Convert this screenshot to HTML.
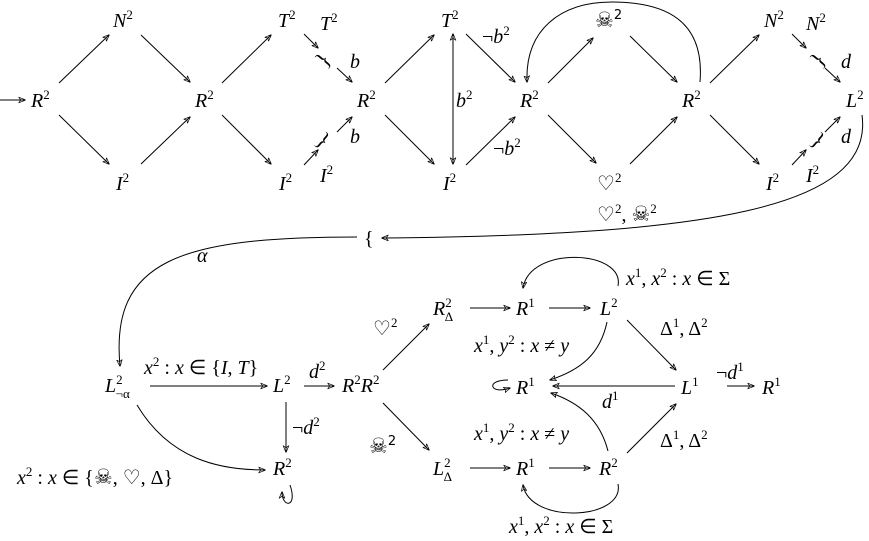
<!DOCTYPE html>
<html><head><meta charset="utf-8"><style>
html,body{margin:0;padding:0;background:#fff;}
svg{display:block;}
text{font-family:"Liberation Serif",serif;font-style:italic;font-size:20px;fill:#000;}
.s{font-size:13px;font-style:normal;}
.u{font-style:normal;}
.k{font-family:"DejaVu Sans",sans-serif;font-style:normal;font-size:21px;}
.b{font-style:normal;font-size:22px;}
line,path{stroke:#000;stroke-width:1;fill:none;}
</style></head><body>
<svg width="869" height="541" viewBox="0 0 869 541" xmlns="http://www.w3.org/2000/svg">
<defs><marker id="a" viewBox="0 0 10 10" refX="9" refY="5" markerWidth="7" markerHeight="7" orient="auto-start-reverse"><path d="M0,1 L10,5 L0,9 L3,5z" fill="#000" stroke="none"/></marker></defs>
<g marker-end="url(#a)">
<line x1="0" y1="100" x2="25" y2="100"/>
<line x1="59" y1="83" x2="109" y2="35"/>
<line x1="59" y1="115" x2="109" y2="164"/>
<line x1="141" y1="35" x2="190" y2="82"/>
<line x1="141" y1="164" x2="190" y2="117"/>
<line x1="222" y1="83" x2="271" y2="35"/>
<line x1="222" y1="115" x2="271" y2="164"/>
<line x1="304" y1="34" x2="318" y2="48"/>
<line x1="337" y1="68" x2="352" y2="82"/>
<line x1="304" y1="165" x2="318" y2="150"/>
<line x1="337" y1="132" x2="352" y2="117"/>
<line x1="385" y1="83" x2="434" y2="35"/>
<line x1="385" y1="115" x2="434" y2="164"/>
<line x1="466" y1="34" x2="515" y2="82"/>
<line x1="466" y1="165" x2="515" y2="117"/>
<line x1="548" y1="83" x2="593" y2="38"/>
<line x1="548" y1="115" x2="596" y2="163"/>
<line x1="630" y1="36" x2="677" y2="82"/>
<line x1="630" y1="164" x2="677" y2="117"/>
<line x1="710" y1="83" x2="759" y2="35"/>
<line x1="710" y1="115" x2="759" y2="164"/>
<line x1="792" y1="34" x2="806" y2="48"/>
<line x1="825" y1="68" x2="840" y2="82"/>
<line x1="792" y1="165" x2="806" y2="150"/>
<line x1="825" y1="132" x2="840" y2="117"/>
<path d="M700,82 C705,20 665,2 612,2 C560,2 525,30 527,82"/>
<path d="M862,115 C875,210 700,235 382,238"/>
<path d="M357,237 C180,237 110,260 120,366"/>
<line x1="150" y1="386" x2="267" y2="386"/>
<line x1="304" y1="386" x2="334" y2="386"/>
<line x1="286" y1="402" x2="286" y2="452"/>
<path d="M137,405 C170,460 220,470 265,470"/>
<line x1="383" y1="370" x2="429" y2="324"/>
<line x1="383" y1="403" x2="429" y2="450"/>
<line x1="470" y1="308" x2="510" y2="308"/>
<line x1="549" y1="308" x2="590" y2="308"/>
<path d="M618,286 C625,250 530,245 523,288"/>
<path d="M607,322 C600,355 580,370 550,380"/>
<line x1="675" y1="386" x2="553" y2="386"/>
<line x1="627" y1="320" x2="676" y2="370"/>
<line x1="727" y1="386" x2="754" y2="386"/>
<line x1="627" y1="453" x2="676" y2="404"/>
<path d="M608,451 C600,420 580,403 551,393"/>
<line x1="470" y1="468" x2="510" y2="468"/>
<line x1="549" y1="468" x2="590" y2="468"/>
<path d="M618,484 C625,520 530,525 523,485"/>
</g>
<line x1="453" y1="34" x2="453" y2="164" marker-end="url(#a)" marker-start="url(#a)"/>
<path d="M510,388 C490,395 485,380 508,380" marker-start="url(#a)"/>
<path d="M290,485 C298,508 282,508 282,492" marker-end="url(#a)"/>
<text x="31" y="107">R<tspan class="s" dy="-8">2</tspan></text>
<text x="113" y="27">N<tspan class="s" dy="-8">2</tspan></text>
<text x="116" y="190">I<tspan class="s" dy="-8">2</tspan></text>
<text x="195" y="107">R<tspan class="s" dy="-8">2</tspan></text>
<text x="278" y="27">T<tspan class="s" dy="-8">2</tspan></text>
<text x="279" y="190">I<tspan class="s" dy="-8">2</tspan></text>
<text x="320" y="30">T<tspan class="s" dy="-8">2</tspan></text>
<text x="320" y="182">I<tspan class="s" dy="-8">2</tspan></text>
<text class="b" x="318" y="67" transform="rotate(-50 323 60)">}</text>
<text class="b" x="318" y="147" transform="rotate(40 323 140)">}</text>
<text x="350" y="68">b</text><text x="350" y="143">b</text>
<text x="357" y="107">R<tspan class="s" dy="-8">2</tspan></text>
<text x="441" y="27">T<tspan class="s" dy="-8">2</tspan></text>
<text x="443" y="190">I<tspan class="s" dy="-8">2</tspan></text>
<text x="456" y="107">b<tspan class="s" dy="-8">2</tspan></text>
<text x="482" y="43"><tspan class="u">¬</tspan>b<tspan class="s" dy="-8">2</tspan></text>
<text x="493" y="155"><tspan class="u">¬</tspan>b<tspan class="s" dy="-8">2</tspan></text>
<text x="520" y="107">R<tspan class="s" dy="-8">2</tspan></text>
<text class="k" x="595" y="27">☠<tspan class="s" dy="-8">2</tspan></text>
<text class="u" x="597" y="190">♡<tspan class="s" dy="-8">2</tspan></text>
<text x="682" y="107">R<tspan class="s" dy="-8">2</tspan></text>
<text x="764" y="27">N<tspan class="s" dy="-8">2</tspan></text>
<text x="766" y="190">I<tspan class="s" dy="-8">2</tspan></text>
<text x="806" y="30">N<tspan class="s" dy="-8">2</tspan></text>
<text x="806" y="182">I<tspan class="s" dy="-8">2</tspan></text>
<text class="b" x="813" y="67" transform="rotate(-50 818 60)">}</text>
<text class="b" x="813" y="147" transform="rotate(40 818 140)">}</text>
<text x="841" y="68">d</text><text x="841" y="143">d</text>
<text x="846" y="107">L<tspan class="s" dy="-8">2</tspan></text>
<text x="597" y="221"><tspan class="u">♡</tspan><tspan class="s" dy="-8">2</tspan><tspan class="u" dy="8">, </tspan><tspan class="k">☠</tspan><tspan class="s" dy="-8">2</tspan></text>
<text class="u" x="364" y="245">{</text>
<text x="197" y="262">α</text>
<text x="105" y="392">L<tspan class="s" dy="-8">2</tspan><tspan class="s" dx="-7" dy="14">¬α</tspan></text>
<text x="144" y="374">x<tspan class="s" dy="-8">2</tspan><tspan class="u" dy="8"> : </tspan>x<tspan class="u"> ∈ {</tspan>I<tspan class="u">, </tspan>T<tspan class="u">}</tspan></text>
<text x="273" y="392">L<tspan class="s" dy="-8">2</tspan></text>
<text x="309" y="378">d<tspan class="s" dy="-8">2</tspan></text>
<text x="342" y="392">R<tspan class="s" dy="-8">2</tspan><tspan dy="8">R</tspan><tspan class="s" dy="-8">2</tspan></text>
<text x="292" y="434"><tspan class="u">¬</tspan>d<tspan class="s" dy="-8">2</tspan></text>
<text x="273" y="475">R<tspan class="s" dy="-8">2</tspan></text>
<text x="17" y="484">x<tspan class="s" dy="-8">2</tspan><tspan class="u" dy="8"> : </tspan>x<tspan class="u"> ∈ {</tspan><tspan class="k">☠</tspan><tspan class="u">, ♡, Δ}</tspan></text>
<text class="u" x="373" y="335">♡<tspan class="s" dy="-8">2</tspan></text>
<text class="k" x="369" y="453">☠<tspan class="s" dy="-8">2</tspan></text>
<text x="433" y="315">R<tspan class="s" dy="-8">2</tspan><tspan class="s u" dx="-7" dy="14">Δ</tspan></text>
<text x="516" y="315">R<tspan class="s" dy="-8">1</tspan></text>
<text x="600" y="315">L<tspan class="s" dy="-8">2</tspan></text>
<text x="626" y="285">x<tspan class="s" dy="-8">1</tspan><tspan class="u" dy="8">, </tspan>x<tspan class="s" dy="-8">2</tspan><tspan class="u" dy="8"> : </tspan>x<tspan class="u"> ∈ Σ</tspan></text>
<text x="474" y="352">x<tspan class="s" dy="-8">1</tspan><tspan class="u" dy="8">, </tspan>y<tspan class="s" dy="-8">2</tspan><tspan class="u" dy="8"> : </tspan>x<tspan class="u"> ≠ </tspan>y</text>
<text class="u" x="660" y="335">Δ<tspan class="s" dy="-8">1</tspan><tspan dy="8">, Δ</tspan><tspan class="s" dy="-8">2</tspan></text>
<text x="516" y="394">R<tspan class="s" dy="-8">1</tspan></text>
<text x="681" y="394">L<tspan class="s" dy="-8">1</tspan></text>
<text x="716" y="379"><tspan class="u">¬</tspan>d<tspan class="s" dy="-8">1</tspan></text>
<text x="762" y="394">R<tspan class="s" dy="-8">1</tspan></text>
<text x="602" y="408">d<tspan class="s" dy="-8">1</tspan></text>
<text x="474" y="440">x<tspan class="s" dy="-8">1</tspan><tspan class="u" dy="8">, </tspan>y<tspan class="s" dy="-8">2</tspan><tspan class="u" dy="8"> : </tspan>x<tspan class="u"> ≠ </tspan>y</text>
<text class="u" x="660" y="447">Δ<tspan class="s" dy="-8">1</tspan><tspan dy="8">, Δ</tspan><tspan class="s" dy="-8">2</tspan></text>
<text x="433" y="475">L<tspan class="s" dy="-8">2</tspan><tspan class="s u" dx="-7" dy="14">Δ</tspan></text>
<text x="516" y="475">R<tspan class="s" dy="-8">1</tspan></text>
<text x="599" y="475">R<tspan class="s" dy="-8">2</tspan></text>
<text x="509" y="533">x<tspan class="s" dy="-8">1</tspan><tspan class="u" dy="8">, </tspan>x<tspan class="s" dy="-8">2</tspan><tspan class="u" dy="8"> : </tspan>x<tspan class="u"> ∈ Σ</tspan></text>
</svg>
</body></html>
